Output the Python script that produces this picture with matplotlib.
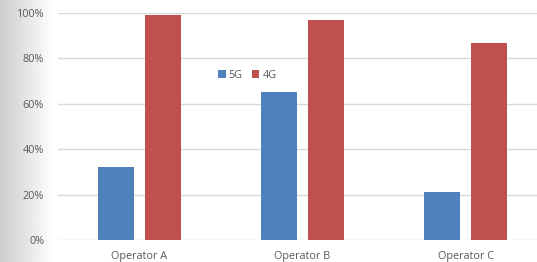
import numpy as np
import matplotlib
matplotlib.use("Agg")
import matplotlib.pyplot as plt
from matplotlib.ticker import PercentFormatter

operators = ["Operator A", "Operator B", "Operator C"]
share_5g = [32, 65, 21]
share_4g = [99, 97, 87]

blue = "#4F81BD"
red = "#C0504D"
text_col = "#595959"

plt.rcParams['font.family'] = ['Open Sans', 'DejaVu Sans']

fig = plt.figure(figsize=(5.37, 2.62), dpi=100)
fig.patch.set_facecolor("white")

# grey gradient strip on the left edge
bg = fig.add_axes([0, 0, 0.1, 1], zorder=-1)
grad = np.linspace(0.80, 1.0, 64).reshape(1, -1)
bg.imshow(grad, aspect="auto", cmap="gray", vmin=0, vmax=1, extent=[0, 1, 0, 1])
bg.axis("off")

ax = fig.add_axes([58 / 537, 22 / 262, 479 / 537, 227 / 262])
ax.patch.set_alpha(0)
x = np.arange(len(operators))
w = 0.22
ax.bar(x - 0.144, share_5g, w, color=blue, label="5G", zorder=3)
ax.bar(x + 0.144, share_4g, w, color=red, label="4G", zorder=3)

ax.set_xlim(-0.5, -0.5 + 479 / 163)
ax.set_ylim(0, 100)
ax.set_yticks([0, 20, 40, 60, 80, 100])
ax.yaxis.set_major_formatter(PercentFormatter(decimals=0))
ax.set_xticks(x)
ax.set_xticklabels(operators)
ax.grid(axis="y", color="#D9D9D9", linewidth=1, zorder=0)
for s in ax.spines.values():
    s.set_visible(False)
ax.tick_params(length=0, labelsize=7.8, colors=text_col, pad=8)
ax.tick_params(axis="y", pad=10)

ax.legend(loc="upper left", bbox_to_anchor=(0.325, 0.77), ncol=2, frameon=False,
          fontsize=7.8, labelcolor=text_col, handlelength=0.7, handleheight=0.7,
          handletextpad=0.3, columnspacing=0.8, borderaxespad=0)

fig.savefig("out.png", dpi=100)
